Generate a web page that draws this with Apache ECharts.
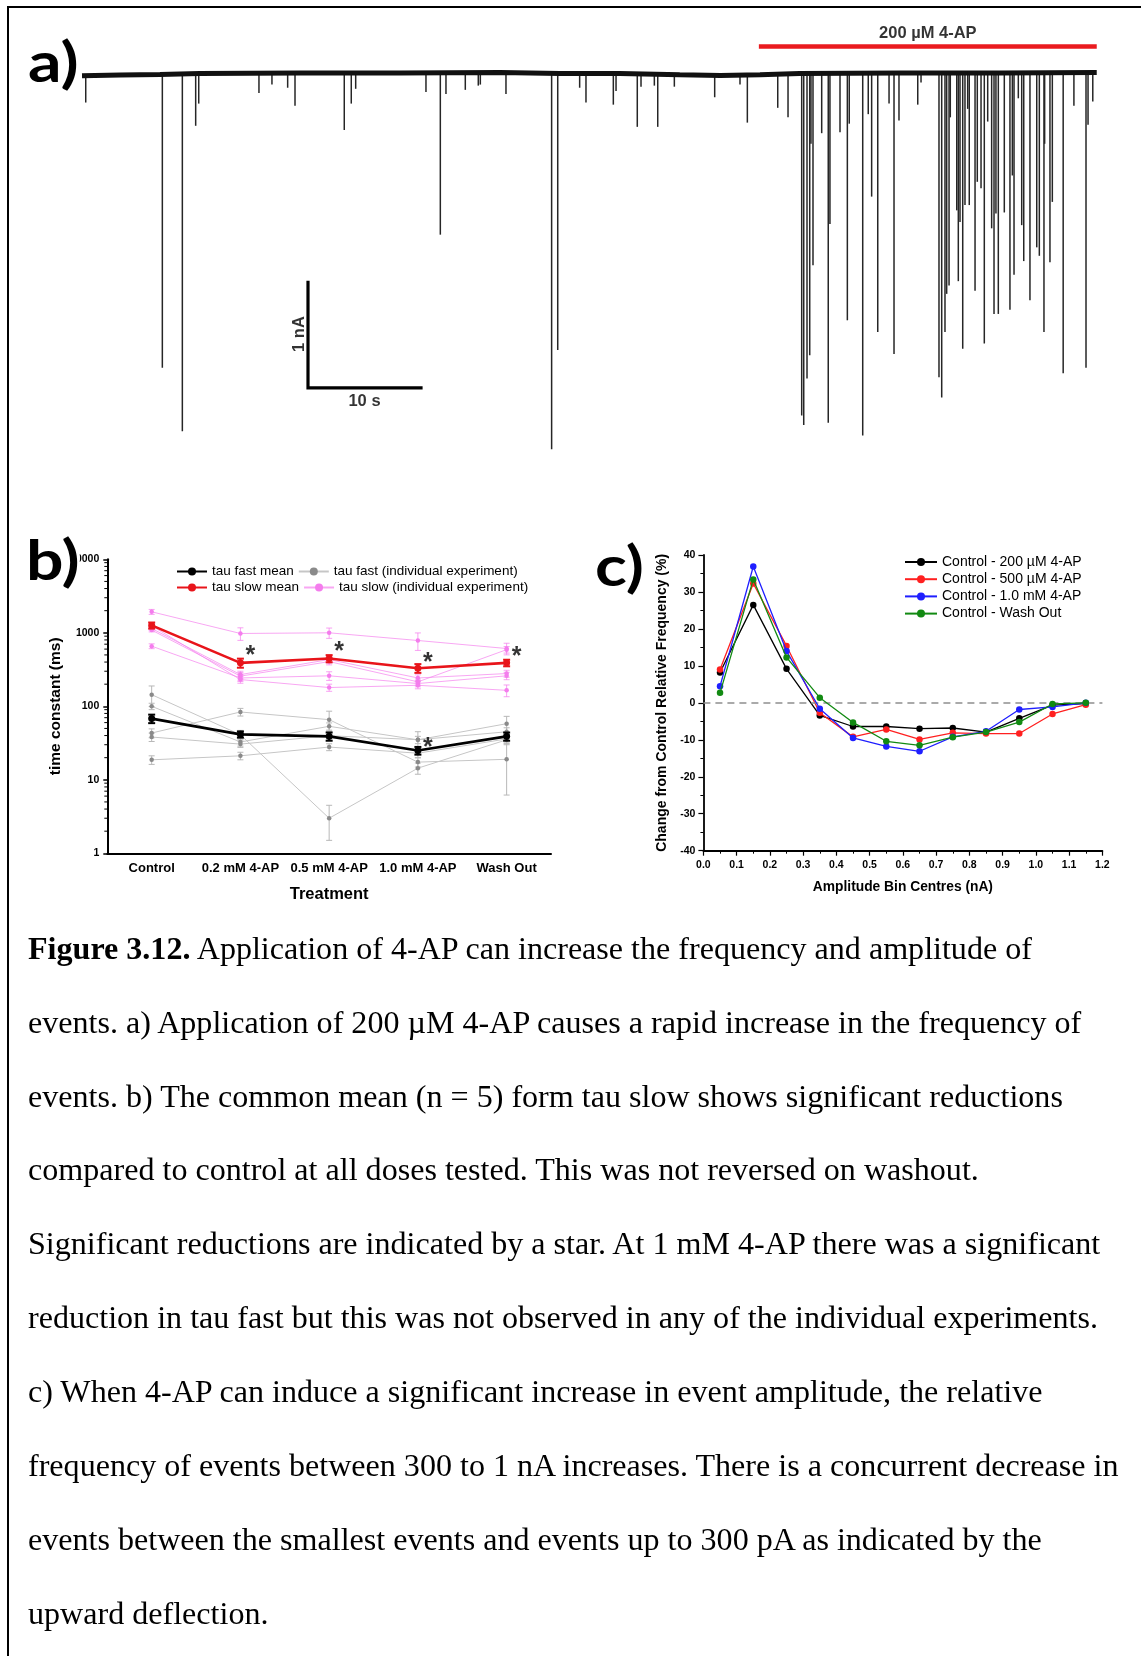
<!DOCTYPE html>
<html>
<head>
<meta charset="utf-8">
<title>Figure 3.12 – 4-AP effects on spontaneous events</title>
<script src="https://cdn.jsdelivr.net/npm/echarts@6/dist/echarts.min.js"></script>
<style>
  html, body { margin: 0; padding: 0; background: #fff; width: 1141px; height: 1656px; overflow: hidden; }
  #frame { position: absolute; left: 7px; top: 6px; width: 1300px; height: 1800px; border: 2px solid #000; box-sizing: border-box; }
  #chart { position: absolute; left: 0; top: 0; width: 1141px; height: 930px; }
  #caption { position: absolute; left: 28px; top: 911.7px; font-family: "Liberation Serif", "Times New Roman", serif;
             font-size: 32.1px; line-height: 73.9px; color: #000; }
  #caption div { white-space: nowrap; }
</style>
</head>
<body>
<div id="frame"></div>
<div id="chart"></div>
<div id="caption">
  <div><b>Figure 3.12.</b> Application of 4-AP can increase the frequency and amplitude of</div>
  <div>events. a) Application of 200 µM 4-AP causes a rapid increase in the frequency of</div>
  <div>events. b) The common mean (n = 5) form tau slow shows significant reductions</div>
  <div>compared to control at all doses tested. This was not reversed on washout.</div>
  <div>Significant reductions are indicated by a star. At 1 mM 4-AP there was a significant</div>
  <div>reduction in tau fast but this was not observed in any of the individual experiments.</div>
  <div>c) When 4-AP can induce a significant increase in event amplitude, the relative</div>
  <div>frequency of events between 300 to 1 nA increases. There is a concurrent decrease in</div>
  <div>events between the smallest events and events up to 300 pA as indicated by the</div>
  <div>upward deflection.</div>
</div>
<script>
// ---------- a) whole-cell recording: event times (s) and peak amplitudes (nA, inward) ----------
const eventTimes = [0.33, 7.11, 8.88, 10.06, 10.33, 15.66, 16.81, 18.20, 18.85, 23.21,
  23.83, 24.22, 30.44, 31.71, 32.21, 33.92, 35.07, 35.25, 37.52, 41.56,
  42.10, 44.04, 44.60, 47.02, 47.26, 49.14, 49.47, 50.65, 50.95, 52.42,
  55.99, 58.23, 58.88, 61.57, 62.48, 63.69, 63.87, 64.16, 64.40, 64.51,
  64.69, 65.46, 66.04, 66.19, 67.08, 67.73, 67.90, 69.09, 69.58, 69.88,
  70.42, 71.42, 71.86, 72.30, 73.96, 74.25, 75.84, 76.08, 76.37, 76.52,
  76.73, 76.84, 77.41, 77.55, 77.70, 77.94, 78.14, 78.38, 78.52, 79.03,
  79.23, 79.56, 79.85, 80.15, 80.50, 80.71, 80.88, 81.09, 81.62, 82.12,
  82.33, 82.48, 82.86, 83.16, 83.34, 83.89, 84.49, 84.72, 85.13, 85.19,
  85.66, 85.87, 86.83, 87.78, 88.85, 89.03, 89.45];
const eventAmps = [0.27, 2.78, 3.38, 0.49, 0.28, 0.18, 0.10, 0.13, 0.30, 0.53,
  0.28, 0.14, 0.17, 1.52, 0.19, 0.15, 0.11, 0.10, 0.19, 3.55,
  2.61, 0.13, 0.27, 0.29, 0.16, 0.50, 0.12, 0.11, 0.50, 0.12,
  0.22, 0.10, 0.46, 0.32, 0.41, 3.23, 3.32, 2.88, 2.66, 0.66,
  1.81, 0.56, 3.30, 1.42, 0.55, 2.33, 0.47, 3.42, 0.38, 1.16,
  2.44, 0.28, 2.65, 0.44, 0.29, 0.08, 2.87, 3.06, 2.44, 2.08,
  2.00, 0.41, 1.29, 1.96, 1.40, 2.60, 1.24, 0.33, 1.24, 2.05,
  1.02, 1.08, 2.55, 0.45, 1.46, 2.27, 1.32, 2.27, 1.31, 2.23,
  0.96, 1.90, 0.23, 1.43, 1.77, 2.14, 1.64, 1.72, 2.44, 0.66,
  1.78, 1.21, 2.83, 0.30, 2.78, 0.48, 0.26];
// holding-current drift of the baseline (nA)
const baselineTimes  = [0, 3.4, 6.9, 10.4, 19.3, 28.1, 37.0, 42.3, 47.6, 52.9, 56.5, 60.0, 63.5, 72.4, 81.2, 89.8];
const baselineLevels = [-0.016, -0.009, -0.005, 0.005, 0.009, 0.009, 0.014, 0.005, 0.005, -0.008, -0.015, -0.006, 0.005, 0.009, 0.009, 0.014];
// drug application window (s)
const drugStart = 59.9, drugEnd = 89.8;
const drugLabel = '200 µM 4-AP';

// ---------- b) decay time constants (ms) ----------
const categories = ['Control', '0.2 mM 4-AP', '0.5 mM 4-AP', '1.0 mM 4-AP', 'Wash Out'];
const tauFastMean    = [68, 41.5, 39, 25, 39];
const tauFastMeanErr = [9, 4, 5, 3, 5];
const tauSlowMean    = [1260, 390, 447, 330, 390];
const tauSlowMeanErr = [120, 55, 50, 45, 40];

const tauFastExp1 = [144, 41, 3.0, 14.4, 35],   tauFastErr1 = [45, 6, 1.5, 2.5, 5];
const tauFastExp2 = [100, 32.7, 53.4, 35, 58],  tauFastErr2 = [10, 4, 6, 4, 15];
const tauFastExp3 = [43.3, 83.7, 65.8, 17.4, 19], tauFastErr3 = [6, 10, 20, 2.5, 12.8];
const tauFastExp4 = [38.2, 30.6, 39.8, 35.1, 45], tauFastErr4 = [5, 3, 5, 10, 6];
const tauFastExp5 = [18.7, 21.2, 27.9, 23, 36], tauFastErr5 = [2.5, 2.5, 3, 3, 5];

const tauSlowExp1 = [1930, 979, 1000, 786, 611], tauSlowErr1 = [150, 190, 160, 210, 110];
const tauSlowExp2 = [1145, 270, 433, 243, 279],  tauSlowErr2 = [60, 30, 45, 25, 30];
const tauSlowExp3 = [1088, 257, 406, 215, 590],  tauSlowErr3 = [60, 30, 40, 20, 60];
const tauSlowExp4 = [658, 243, 260, 204, 260],   tauSlowErr4 = [50, 25, 35, 20, 30];
const tauSlowExp5 = [1250, 231, 180, 193, 165],  tauSlowErr5 = [80, 25, 20, 20, 30];

// significance stars: [category index, height (ms)]
const slowStars = [[1, 584], [2, 662], [3, 474], [4, 572]];
const fastStars = [[3, 33]];
const logMinorTicks = [2, 3, 4, 5, 6, 7, 8, 9, 20, 30, 40, 50, 60, 70, 80, 90,
  200, 300, 400, 500, 600, 700, 800, 900, 2000, 3000, 4000, 5000, 6000, 7000, 8000, 9000];

// ---------- c) change in relative frequency per amplitude bin (%) ----------
const binCentres = [0.05, 0.15, 0.25, 0.35, 0.45, 0.55, 0.65, 0.75, 0.85, 0.95, 1.05, 1.15];
const diff200uM = [8.2, 26.5, 9.2, -3.4, -6.4, -6.4, -7.0, -6.8, -7.9, -4.2, -0.6, -0.2];
const diff500uM = [9.0, 32.3, 15.4, -2.7, -9.2, -7.2, -9.9, -8.1, -8.3, -8.3, -3.0, -0.5];
const diff1mM   = [4.5, 36.9, 14.0, -1.6, -9.5, -11.8, -13.1, -9.2, -7.7, -1.8, -1.1, 0];
const diffWash  = [2.7, 33.4, 12.3, 1.4, -5.3, -10.4, -11.5, -9.3, -7.9, -5.2, -0.3, 0];

const FONT = 'Liberation Sans';

// vertical error bars with caps on the log-scaled panel
function errorBars(values, errs, color, width, cap, z) {
  return {
    type: 'custom', xAxisIndex: 1, yAxisIndex: 1, silent: true, z: z,
    data: values.map((v, i) => [i, v - errs[i], v + errs[i]]),
    renderItem: function (params, api) {
      const lo = api.coord([api.value(0), api.value(1)]);
      const hi = api.coord([api.value(0), api.value(2)]);
      const x = lo[0];
      const st = { stroke: color, lineWidth: width };
      return { type: 'group', children: [
        { type: 'line', shape: { x1: x, y1: lo[1], x2: x, y2: hi[1] }, style: st },
        { type: 'line', shape: { x1: x - cap, y1: lo[1], x2: x + cap, y2: lo[1] }, style: st },
        { type: 'line', shape: { x1: x - cap, y1: hi[1], x2: x + cap, y2: hi[1] }, style: st }
      ]};
    }
  };
}

function expLine(name, values, lineColor, dotColor) {
  return {
    type: 'line', name: name, xAxisIndex: 1, yAxisIndex: 1, data: values, z: 2,
    symbol: 'circle', symbolSize: 4.5, showSymbol: true,
    lineStyle: { color: lineColor, width: 1 },
    itemStyle: { color: dotColor }
  };
}

const fastExps = [[tauFastExp1, tauFastErr1], [tauFastExp2, tauFastErr2], [tauFastExp3, tauFastErr3], [tauFastExp4, tauFastErr4], [tauFastExp5, tauFastErr5]];
const slowExps = [[tauSlowExp1, tauSlowErr1], [tauSlowExp2, tauSlowErr2], [tauSlowExp3, tauSlowErr3], [tauSlowExp4, tauSlowErr4], [tauSlowExp5, tauSlowErr5]];

const FAST_IND = 'tau fast (individual experiment)';
const SLOW_IND = 'tau slow (individual experiment)';
const GREY_LINE = '#c6c6c6', GREY_DOT = '#8a8a8a';
const PINK_LINE = 'rgba(245,130,238,0.7)', PINK_DOT = '#f47ded';

const series = [];

// ----- panel a -----
series.push({
  type: 'custom', xAxisIndex: 0, yAxisIndex: 0, silent: true, z: 2,
  data: eventTimes.map((t, i) => [t, -eventAmps[i]]),
  renderItem: function (params, api) {
    const top = api.coord([api.value(0), 0]);
    const tip = api.coord([api.value(0), api.value(1)]);
    return { type: 'line', shape: { x1: top[0], y1: top[1], x2: tip[0], y2: tip[1] },
             style: { stroke: '#262626', lineWidth: 1.5 } };
  }
});
series.push({
  type: 'line', xAxisIndex: 0, yAxisIndex: 0, silent: true, z: 3, symbol: 'none',
  data: baselineTimes.map((t, i) => [t, baselineLevels[i]]),
  lineStyle: { color: '#111', width: 5 }
});
// drug bar and label
series.push({
  type: 'line', xAxisIndex: 0, yAxisIndex: 0, silent: true, symbol: 'none',
  data: [[drugStart, 0.26], [drugEnd, 0.26]],
  lineStyle: { color: '#ea1b1f', width: 4.5 }
});
// scale bar: 10 s by 1 nA
series.push({
  type: 'line', xAxisIndex: 0, yAxisIndex: 0, silent: true, symbol: 'none',
  data: [[20, -1.97], [20, -2.97], [30, -2.97]],
  lineStyle: { color: '#000', width: 3.2, cap: 'square', join: 'miter' }
});
series.push({
  type: 'scatter', xAxisIndex: 0, yAxisIndex: 0, silent: true, symbolSize: 0,
  data: [
    { name: drugLabel, value: [(drugStart + drugEnd) / 2, 0.385] },
    { name: '10 s', value: [25, -3.10] },
    { name: '1 nA', value: [19.2, -2.46], label: { rotate: 90 } }
  ],
  label: { show: true, position: 'inside', formatter: '{b}', color: '#000',
           fontFamily: FONT, fontWeight: 'bold', fontSize: 16.5 }
});

// ----- panel b -----
fastExps.forEach(([v, e]) => series.push(errorBars(v, e, '#b8b8b8', 1, 3, 1)));
slowExps.forEach(([v, e]) => series.push(errorBars(v, e, 'rgba(245,130,238,0.75)', 1, 3, 1)));
fastExps.forEach(([v]) => series.push(expLine(FAST_IND, v, GREY_LINE, GREY_DOT)));
slowExps.forEach(([v]) => series.push(expLine(SLOW_IND, v, PINK_LINE, PINK_DOT)));
series.push({
  type: 'line', name: 'tau fast mean', xAxisIndex: 1, yAxisIndex: 1, data: tauFastMean, z: 5,
  symbol: 'circle', symbolSize: 7, lineStyle: { color: '#000', width: 2.6 }, itemStyle: { color: '#000' }
});
series.push({
  type: 'line', name: 'tau slow mean', xAxisIndex: 1, yAxisIndex: 1, data: tauSlowMean, z: 5,
  symbol: 'circle', symbolSize: 7, lineStyle: { color: '#e8141a', width: 2.6 }, itemStyle: { color: '#e8141a' }
});
series.push(errorBars(tauFastMean, tauFastMeanErr, '#000', 2, 3.5, 6));
series.push(errorBars(tauSlowMean, tauSlowMeanErr, '#e8141a', 2, 3.5, 6));
series.push({
  type: 'scatter', xAxisIndex: 1, yAxisIndex: 1, silent: true, symbolSize: 0, z: 7,
  data: slowStars.concat(fastStars),
  label: { show: true, formatter: '*', position: 'inside', offset: [10, 6], color: '#000',
           fontFamily: FONT, fontWeight: 'bold', fontSize: 25 }
});
// minor ticks of the logarithmic axis
series.push({
  type: 'custom', xAxisIndex: 1, yAxisIndex: 1, silent: true, z: 3,
  data: logMinorTicks.map(v => [0, v]),
  renderItem: function (params, api) {
    const y = api.coord([0, api.value(1)])[1];
    const x = params.coordSys.x;
    return { type: 'line', shape: { x1: x - 3, y1: y, x2: x, y2: y }, style: { stroke: '#000', lineWidth: 1 } };
  }
});

// ----- panel c -----
const cSeries = [
  ['Control - 200 µM 4-AP', diff200uM, '#000000'],
  ['Control - 500 µM 4-AP', diff500uM, '#ff2020'],
  ['Control - 1.0 mM 4-AP', diff1mM, '#1f1fff'],
  ['Control - Wash Out', diffWash, '#128a12']
];
cSeries.forEach(([name, vals, color], k) => {
  const s = {
    type: 'line', name: name, xAxisIndex: 2, yAxisIndex: 2, z: 3 + k,
    data: binCentres.map((x, i) => [x, vals[i]]),
    symbol: 'circle', symbolSize: 6.5,
    lineStyle: { color: color, width: 1.3 }, itemStyle: { color: color }
  };
  if (k === 0) {
    s.markLine = { silent: true, symbol: 'none', label: { show: false },
      lineStyle: { color: '#8e8e8e', type: [7, 5], width: 1.5 },
      data: [{ yAxis: 0 }] };
  }
  series.push(s);
});

const axisLabelB = { color: '#000', fontFamily: FONT, fontWeight: 'bold' };

// panel letters, slightly widened bold sans
function panelLetter(text, x, y, extra) {
  return {
    type: 'text', z: 100, x: x, y: y, scaleX: 1.18,
    style: Object.assign({ text: text, x: 0, y: 0, verticalAlign: 'middle', fill: '#000', font: 'bold 56px Lato' }, extra || {})
  };
}

const option = {
  animation: false,
  textStyle: { fontFamily: FONT },
  grid: [
    { left: 82, top: 21.15, width: 1017, height: 475.65 },
    { left: 107.3, top: 559.3, width: 443.7, height: 294 },
    { left: 703.4, top: 555, width: 399, height: 295.7 }
  ],
  xAxis: [
    { gridIndex: 0, type: 'value', min: 0, max: 90, show: false },
    { gridIndex: 1, type: 'category', data: categories, boundaryGap: true,
      axisLine: { lineStyle: { color: '#000', width: 2 } },
      axisTick: { alignWithLabel: true, length: 5, lineStyle: { color: '#000', width: 1.5 } },
      axisLabel: Object.assign({ fontSize: 13, margin: 9, interval: 0 }, axisLabelB),
      name: 'Treatment', nameLocation: 'middle', nameGap: 33,
      nameTextStyle: { color: '#000', fontFamily: FONT, fontWeight: 'bold', fontSize: 16.5 } },
    { gridIndex: 2, type: 'value', min: 0, max: 1.2, interval: 0.1,
      axisLine: { onZero: false, lineStyle: { color: '#000', width: 1.8 } },
      axisTick: { length: 5, lineStyle: { color: '#000', width: 1.2 } },
      minorTick: { show: true, splitNumber: 2, length: 3, lineStyle: { color: '#000', width: 1 } },
      splitLine: { show: false },
      axisLabel: Object.assign({ fontSize: 10.5, margin: 9, formatter: v => v.toFixed(1) }, axisLabelB),
      name: 'Amplitude Bin Centres (nA)', nameLocation: 'middle', nameGap: 29,
      nameTextStyle: { color: '#000', fontFamily: FONT, fontWeight: 'bold', fontSize: 13.8 } }
  ],
  yAxis: [
    { gridIndex: 0, type: 'value', min: -4, max: 0.5, show: false },
    { gridIndex: 1, type: 'log', logBase: 10, min: 1, max: 10000,
      axisLine: { show: true, lineStyle: { color: '#000', width: 2 } },
      axisTick: { show: true, length: 4, lineStyle: { color: '#000', width: 1.5 } },
      splitLine: { show: false },
      axisLabel: Object.assign({ fontSize: 10.5, margin: 8, formatter: v => String(Math.round(v)) }, axisLabelB),
      name: 'time constant (ms)', nameLocation: 'middle', nameGap: 44,
      nameTextStyle: { color: '#000', fontFamily: FONT, fontWeight: 'bold', fontSize: 15.5 } },
    { gridIndex: 2, type: 'value', min: -40, max: 40, interval: 10,
      axisLine: { show: true, onZero: false, lineStyle: { color: '#000', width: 1.8 } },
      axisTick: { show: true, length: 5, lineStyle: { color: '#000', width: 1.2 } },
      minorTick: { show: true, splitNumber: 2, length: 3, lineStyle: { color: '#000', width: 1 } },
      splitLine: { show: false },
      axisLabel: Object.assign({ fontSize: 10.5, margin: 8 }, axisLabelB),
      name: 'Change from Control Relative Frequency (%)', nameLocation: 'middle', nameGap: 34,
      nameTextStyle: { color: '#000', fontFamily: FONT, fontWeight: 'bold', fontSize: 14 } }
  ],
  legend: [
    { data: ['tau fast mean', FAST_IND], left: 176, top: 564.5, padding: 0,
      itemWidth: 30, itemHeight: 10, itemGap: 4, selectedMode: false,
      textStyle: { color: '#000', fontFamily: FONT, fontSize: 13.5 } },
    { data: ['tau slow mean', SLOW_IND], left: 176, top: 580.5, padding: 0,
      itemWidth: 30, itemHeight: 10, itemGap: 4, selectedMode: false,
      textStyle: { color: '#000', fontFamily: FONT, fontSize: 13.5 } },
    { data: cSeries.map(s => s[0]), orient: 'vertical', left: 904, top: 555, padding: 0,
      itemWidth: 32, itemHeight: 10, itemGap: 3.2, selectedMode: false,
      textStyle: { color: '#000', fontFamily: FONT, fontSize: 14 } }
  ],
  graphic: [
    panelLetter('a)', 28, 64),
    panelLetter('b)', 26, 562, { backgroundColor: '#fff' }),
    panelLetter('c)', 595, 568)
  ],
  series: series
};

const chart = echarts.init(document.getElementById('chart'), null, { renderer: 'canvas' });
chart.setOption(option);
</script>
</body>
</html>
